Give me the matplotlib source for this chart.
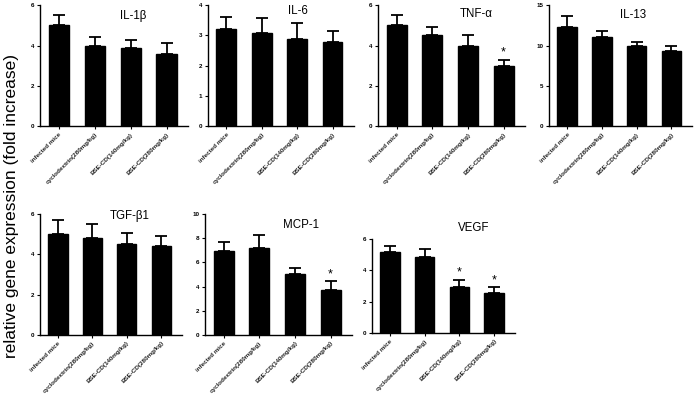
import matplotlib
matplotlib.use("Agg")
import matplotlib.pyplot as plt
import numpy as np

plt.rcParams['font.family'] = ['Liberation Sans', 'DejaVu Sans']

categories = ["infected mice", "cyclodextrin(280mg/kg)", "BSE-CD(140mg/kg)", "BSE-CD(280mg/kg)"]

il1b_mean = [5.0, 4.0, 3.88, 3.6]
il1b_err = [0.53, 0.42, 0.38, 0.52]
il6_mean = [3.2, 3.09, 2.89, 2.78]
il6_err = [0.41, 0.48, 0.51, 0.36]
tnfa_mean = [5.0, 4.5, 3.97, 3.0]
tnfa_err = [0.52, 0.4, 0.55, 0.3]
il13_mean = [12.3, 11.04, 10.0, 9.33]
il13_err = [1.37, 0.71, 0.5, 0.67]
tgfb1_mean = [5.0, 4.79, 4.51, 4.41]
tgfb1_err = [0.7, 0.7, 0.53, 0.52]
mcp1_mean = [6.97, 7.22, 5.01, 3.72]
mcp1_err = [0.69, 1.02, 0.53, 0.71]
vegf_mean = [5.15, 4.85, 2.94, 2.53]
vegf_err = [0.42, 0.51, 0.46, 0.38]

panels = [
    # title, means, errs, ymax, yticks, sig, rect, title pos
    ("IL-1β", il1b_mean, il1b_err, 6, [0, 2, 4, 6], [], [0.0576, 0.687, 0.213, 0.300], (0.63, 0.91)),
    ("IL-6", il6_mean, il6_err, 4, [0, 1, 2, 3, 4], [], [0.299, 0.687, 0.210, 0.300], (0.62, 0.95)),
    ("TNF-α", tnfa_mean, tnfa_err, 6, [0, 2, 4, 6], [3], [0.544, 0.687, 0.2115, 0.300], (0.67, 0.93)),
    ("IL-13", il13_mean, il13_err, 15, [0, 5, 10, 15], [], [0.790, 0.687, 0.206, 0.300], (0.59, 0.92)),
    ("TGF-β1", tgfb1_mean, tgfb1_err, 6, [0, 2, 4, 6], [], [0.0576, 0.169, 0.204, 0.300], (0.63, 0.98)),
    ("MCP-1", mcp1_mean, mcp1_err, 10, [0, 2, 4, 6, 8, 10], [3], [0.295, 0.169, 0.2115, 0.300], (0.65, 0.91)),
    ("VEGF", vegf_mean, vegf_err, 6, [0, 2, 4, 6], [2, 3], [0.535, 0.174, 0.206, 0.233], (0.71, 1.12)),
]

fig = plt.figure(figsize=(6.95, 4.03), dpi=100)
x = np.arange(len(categories))
for title, means, errs, ymax, yticks, sig, rect, tpos in panels:
    ax = fig.add_axes(rect)
    ax.bar(x, means, width=0.56, color='black', edgecolor='black')
    ax.errorbar(x, means, yerr=[np.zeros(len(errs)), errs], fmt='none',
                ecolor='black', elinewidth=1.3, capsize=4, capthick=1.3)
    for i in sig:
        ax.text(x[i], means[i] + errs[i] + ymax * 0.01, "*", ha='center', va='bottom', fontsize=9)
    ax.set_xlim(-0.52, 3.6)
    ax.set_ylim(0, ymax)
    ax.set_yticks(yticks)
    ax.set_xticks(x)
    ax.set_xticklabels(categories, rotation=45, ha='right', rotation_mode='anchor',
                       fontsize=4.5, fontweight='bold', color='#222222')
    ax.tick_params(axis='y', labelsize=4.5, length=2.5, width=0.8, pad=1.5)
    for lab in ax.get_yticklabels():
        lab.set_fontweight('bold')
    ax.tick_params(axis='x', length=2.5, width=0.8, pad=1.5)
    for s in ['top', 'right']:
        ax.spines[s].set_visible(False)
    for s in ['left', 'bottom']:
        ax.spines[s].set_linewidth(1.0)
    ax.text(tpos[0], tpos[1], title, transform=ax.transAxes, ha='center', va='center', fontsize=8.3)

fig.text(0.017, 0.49, "relative gene expression (fold increase)", rotation=90,
         ha='center', va='center', fontsize=12.5)

fig.savefig("out.png", dpi=100)
